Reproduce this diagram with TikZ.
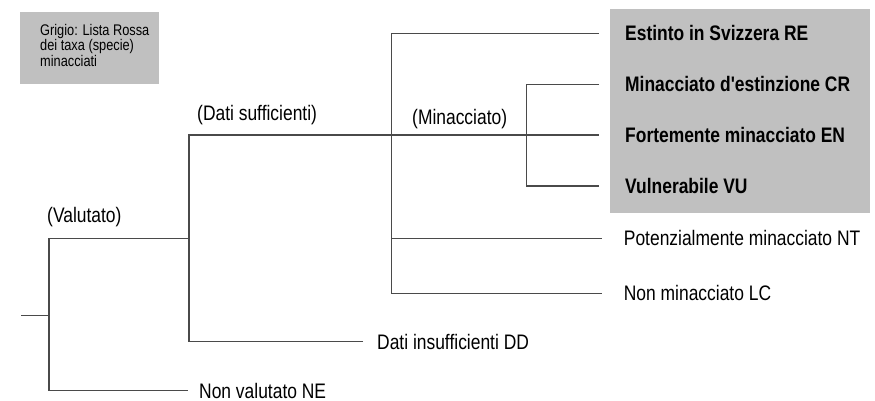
\documentclass[tikz,border=0pt]{standalone}
\usepackage{fontspec}
\newfontfamily\narrowsans{Liberation Sans}[FakeStretch=0.83]
\definecolor{grigio}{HTML}{C0C0C0}
\definecolor{ramo}{HTML}{4A4A4A}

\begin{document}
\begin{tikzpicture}[x=1pt, y=-1pt,
    tree/.style={draw=ramo, line width=1.3pt},
    leaf/.style={anchor=west, inner ysep=0pt, text height=15pt, text depth=0pt,
      font=\narrowsans\fontsize{21}{25}\selectfont},
    rosso/.style={leaf, font=\narrowsans\bfseries\fontsize{21}{25}\selectfont},
    etq/.style={anchor=west, inner sep=0pt, text height=15pt, text depth=0pt,
      font=\narrowsans\fontsize{21}{25}\selectfont},
    legenda/.style={anchor=north west, inner sep=0pt, align=left,
      font=\narrowsans\fontsize{15.4}{15.5}\selectfont}
  ]
  \useasboundingbox (0,0) rectangle (875,401);
  % riquadri grigi
  \fill[grigio] (20,12.3) rectangle (159,84);
  \fill[grigio] (610,9.3) rectangle (870,212.7);
  \node[legenda] (leg) at (40,24) {Grigio: Lista Rossa\\dei taxa (specie)\\minacciati};

  % punti di ramificazione
  \coordinate (start) at (21,315.7);
  \coordinate (c0) at (49,315.7);
  \coordinate (c1) at (189,238.3);
  \coordinate (c2) at (391.7,135);
  \coordinate (c3) at (526.5,135);

  % foglie
  \node[rosso, inner xsep=26pt] (re) at (599,33.3)  {Estinto in Svizzera RE};
  \node[rosso, inner xsep=26pt] (cr) at (599,84.3)  {Minacciato d'estinzione CR};
  \node[rosso, inner xsep=26pt] (en) at (599,135)   {Fortemente minacciato EN};
  \node[rosso, inner xsep=26pt] (vu) at (599,186)   {Vulnerabile VU};
  \node[leaf, inner xsep=22pt] (nt) at (601.7,238.3) {Potenzialmente minacciato NT};
  \node[leaf, inner xsep=22pt] (lc) at (601.7,293.3) {Non minacciato LC};
  \node[leaf, inner xsep=14pt] (dd) at (363,341.7)   {Dati insufficienti DD};
  \node[leaf, inner xsep=11pt] (ne) at (188,390.7)   {Non valutato NE};

  % rami
  \draw[tree] (start) -- (c0);
  \draw[tree] (c1) -| (c0 |- ne.west) -- (ne.west);
  \draw[tree] (dd.west) -| (c1 |- c2) -- (en.west);
  \draw[tree] (re.west) -| (c2) |- (lc.west);
  \draw[tree] (c2 |- nt.west) -- (nt.west);
  \draw[tree] (cr.west) -| (c3) |- (vu.west);

  % etichette dei rami
  \node[etq] (val) at (47,215)    {(Valutato)};
  \node[etq] (suf) at (197,113.5) {(Dati sufficienti)};
  \node[etq] (min) at (412,116.7) {(Minacciato)};
\end{tikzpicture}
\end{document}
